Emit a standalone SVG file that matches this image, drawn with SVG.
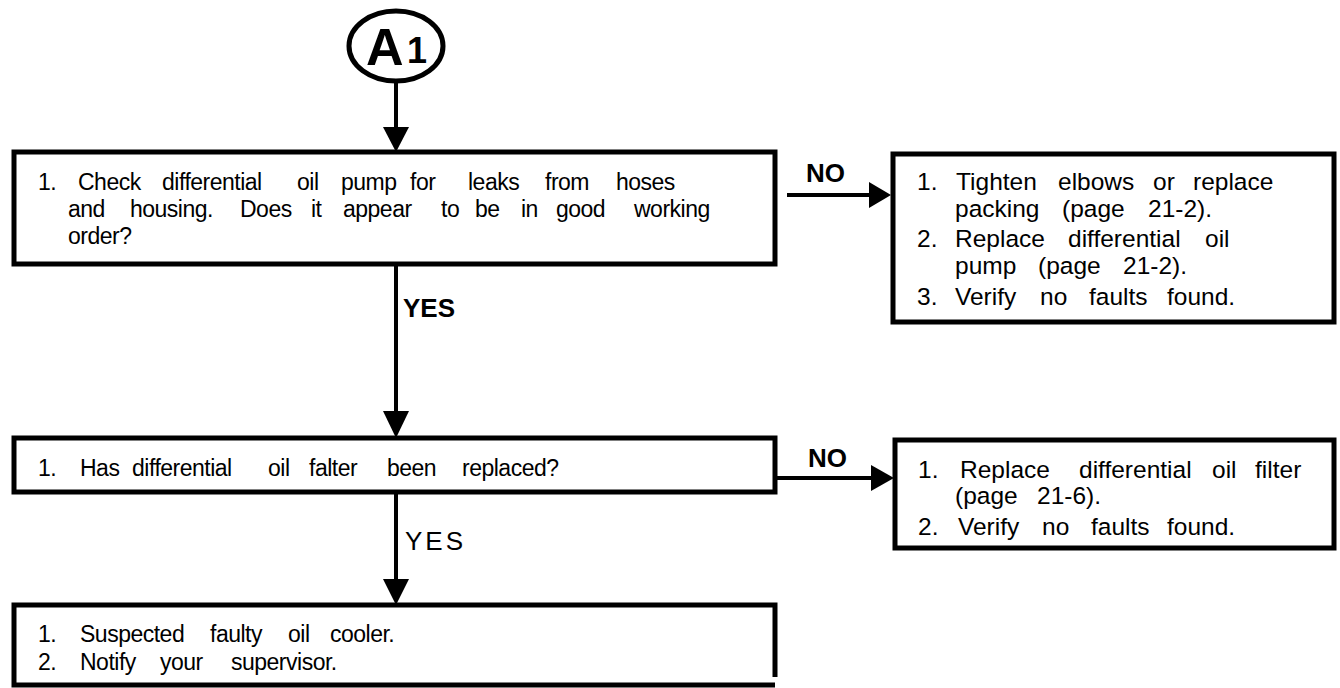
<svg xmlns="http://www.w3.org/2000/svg" width="1340" height="688" viewBox="0 0 1340 688">
<style>
.box{fill:#fff;stroke:#000;stroke-width:5}
.ln{stroke:#000;stroke-width:4;fill:none}
.hd{fill:#000}
.t{font-family:"Liberation Sans",Arial,sans-serif;font-size:23px;letter-spacing:-0.5px;fill:#000}
.r{font-family:"Liberation Sans",Arial,sans-serif;font-size:24.5px;fill:#000}
.b{font-family:"Liberation Sans",Arial,sans-serif;font-size:26px;font-weight:bold;fill:#000}
</style>
<rect width="1340" height="688" fill="#fff"/>
<g id="connectors">
<line class="ln" x1="396" y1="81" x2="396" y2="130"/>
<polygon class="hd" points="383,127 409,127 396,152"/>
<line class="ln" x1="396" y1="264" x2="396" y2="414"/>
<polygon class="hd" points="383,411 409,411 396,438"/>
<line class="ln" x1="396" y1="492" x2="396" y2="582"/>
<polygon class="hd" points="383,579 409,579 396,605"/>
<line class="ln" x1="787" y1="195" x2="872" y2="195"/>
<polygon class="hd" points="869,182 869,208 891,195"/>
<line class="ln" x1="777" y1="478" x2="874" y2="478"/>
<polygon class="hd" points="871,465 871,491 894,478"/>
<text class="b" x="403" y="317">YES</text>
<text class="r" x="405" y="550" style="font-size:26px;letter-spacing:3px">YES</text>
<text class="b" x="806" y="182">NO</text>
<text class="b" x="808" y="467">NO</text>
</g>
<g id="start">
<ellipse cx="396" cy="46" rx="47" ry="35" fill="#fff" stroke="#000" stroke-width="5"/>
<text x="366" y="65" style="font-family:'Liberation Sans',Arial,sans-serif;font-weight:bold;font-size:52px">A</text>
<text x="407" y="63" style="font-family:'Liberation Sans',Arial,sans-serif;font-weight:bold;font-size:36px">1</text>
</g>
<g id="check-pump">
<rect class="box" x="14" y="152" width="761" height="112"/>
<text class="t" y="190"><tspan x="38">1.</tspan><tspan x="78">Check</tspan><tspan x="162">differential</tspan><tspan x="297">oil</tspan><tspan x="341">pump</tspan><tspan x="410">for</tspan><tspan x="468">leaks</tspan><tspan x="545">from</tspan><tspan x="616">hoses</tspan></text>
<text class="t" y="217"><tspan x="68">and</tspan><tspan x="130">housing.</tspan><tspan x="240">Does</tspan><tspan x="311">it</tspan><tspan x="343">appear</tspan><tspan x="441">to</tspan><tspan x="475">be</tspan><tspan x="521">in</tspan><tspan x="556">good</tspan><tspan x="634">working</tspan></text>
<text class="t" y="244"><tspan x="68">order?</tspan></text>
</g>
<g id="fix-pump">
<rect class="box" x="893" y="154" width="441" height="168"/>
<text class="r" y="190"><tspan x="917">1.</tspan><tspan x="956">Tighten</tspan><tspan x="1058">elbows</tspan><tspan x="1153">or</tspan><tspan x="1193">replace</tspan></text>
<text class="r" y="217"><tspan x="955">packing</tspan><tspan x="1062">(page</tspan><tspan x="1148">21-2).</tspan></text>
<text class="r" y="247"><tspan x="917">2.</tspan><tspan x="955">Replace</tspan><tspan x="1068">differential</tspan><tspan x="1205">oil</tspan></text>
<text class="r" y="274"><tspan x="955">pump</tspan><tspan x="1038">(page</tspan><tspan x="1123">21-2).</tspan></text>
<text class="r" y="305"><tspan x="917">3.</tspan><tspan x="955">Verify</tspan><tspan x="1040">no</tspan><tspan x="1089">faults</tspan><tspan x="1167">found.</tspan></text>
</g>
<g id="filter-replaced">
<rect class="box" x="14" y="438" width="761" height="54"/>
<text class="t" y="476"><tspan x="38">1.</tspan><tspan x="80">Has</tspan><tspan x="132">differential</tspan><tspan x="268">oil</tspan><tspan x="309">falter</tspan><tspan x="387">been</tspan><tspan x="462">replaced?</tspan></text>
</g>
<g id="replace-filter">
<rect class="box" x="895" y="440" width="439" height="108"/>
<text class="r" y="478"><tspan x="918">1.</tspan><tspan x="960">Replace</tspan><tspan x="1079">differential</tspan><tspan x="1212">oil</tspan><tspan x="1255">filter</tspan></text>
<text class="r" y="504"><tspan x="955">(page</tspan><tspan x="1037">21-6).</tspan></text>
<text class="r" y="535"><tspan x="918">2.</tspan><tspan x="958">Verify</tspan><tspan x="1042">no</tspan><tspan x="1091">faults</tspan><tspan x="1167">found.</tspan></text>
</g>
<g id="oil-cooler">
<rect x="14" y="605" width="761" height="80" fill="#fff"/>
<path class="box" d="M775,677 V605 H14 V685 H775" fill="none"/>
<text class="t" y="642"><tspan x="38">1.</tspan><tspan x="80">Suspected</tspan><tspan x="210">faulty</tspan><tspan x="288">oil</tspan><tspan x="330">cooler.</tspan></text>
<text class="t" y="670"><tspan x="38">2.</tspan><tspan x="80">Notify</tspan><tspan x="160">your</tspan><tspan x="231">supervisor.</tspan></text>
</g>
</svg>
